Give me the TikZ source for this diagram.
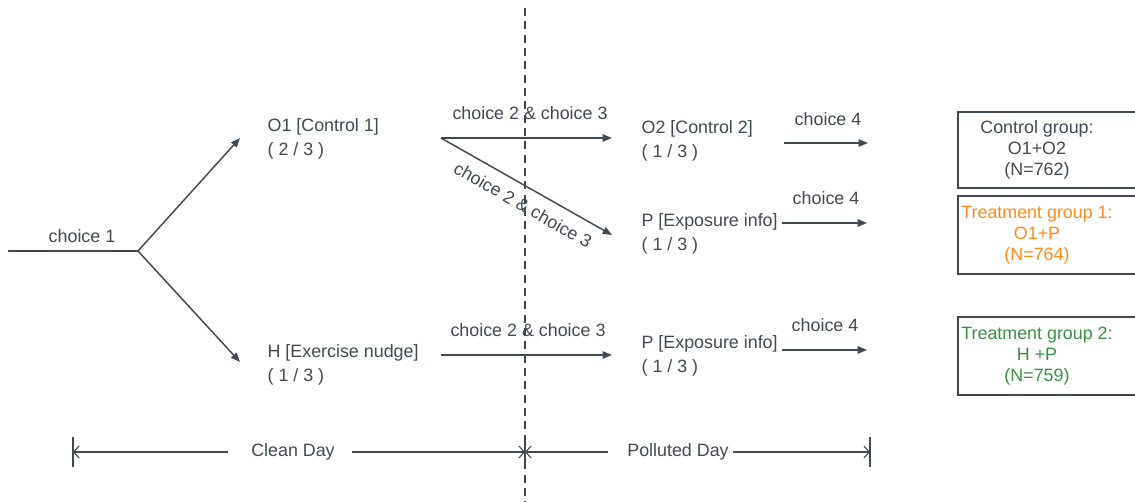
\documentclass[tikz,border=0pt]{standalone}
\usepackage{fontspec}
\setmainfont{Liberation Sans}
\usetikzlibrary{positioning, arrows.meta, calc}
\definecolor{ink}{HTML}{414952}
\definecolor{treatA}{HTML}{FF8A1C}
\definecolor{treatB}{HTML}{3D8D43}

\begin{document}
\begin{tikzpicture}[
    x=0.75pt, y=-0.75pt,
    every node/.style={font=\fontsize{13.4}{17.5}\selectfont, text=ink, inner sep=1pt},
    arm/.style={draw=ink, line width=1.1pt, -{Triangle[length=7pt,width=5.5pt]}},
    plain/.style={draw=ink, line width=1.1pt},
    arm text/.style={align=left, anchor=west},
    span/.style={draw=ink, line width=0.8pt, -{Straight Barb[length=4pt,width=9pt]}},
    tick/.style={draw=ink, line width=1pt},
    groupbox/.style={draw=ink, line width=1.6pt},
    group text/.style={align=center, font=\fontsize{13.4}{15.75}\selectfont}
]
    \useasboundingbox (0,0) rectangle (1135,502);

    % day split
    \draw[ink, line width=0.9pt, dash pattern=on 6pt off 4pt] (525,8) -- (525,502);

    % first randomisation
    \coordinate (start) at (8,251);
    \coordinate (fork) at (138,251);
    \node (c1) at (82,236) {choice 1};
    \node[arm text] (o1) at (266,139) {O1 [Control 1]\\( 2 / 3 )};
    \node[arm text] (h) at (266,365) {H [Exercise nudge]\\( 1 / 3 )};
    \draw[plain] (start) -- (fork);
    \draw[arm] (fork) -- (240,138) coordinate (o1in);
    \draw[arm] (fork) -- (240,362) coordinate (hin);

    % second randomisation
    \coordinate (o1out) at (441,138);
    \coordinate (hout) at (441,355);
    \node[arm text] (o2) at (640,141) {O2 [Control 2]\\( 1 / 3 )};
    \node[arm text] (pa) at (640,234) {P [Exposure info]\\( 1 / 3 )};
    \node[arm text] (pb) at (640,356) {P [Exposure info]\\( 1 / 3 )};
    \coordinate (o2in) at (612,138);
    \coordinate (pain) at (612,235);
    \coordinate (pbin) at (612,355);
    \draw[arm] (o1out) -- (o2in);
    \draw[arm] (o1out) -- (pain);
    \draw[arm] (hout) -- (pbin);
    \node (c2a) at (530,113) {choice 2 \& choice 3};
    \node[rotate=-29.6] (c2b) at (523,205) {choice 2 \& choice 3};
    \node (c2c) at (528,330) {choice 2 \& choice 3};

    % third step
    \coordinate (o2out) at (784,143);
    \coordinate (paout) at (782,223);
    \coordinate (pbout) at (782,350);
    \draw[arm] (o2out) -- (868,143);
    \draw[arm] (paout) -- (867,223);
    \draw[arm] (pbout) -- (867,350);
    \node (c4a) at (828,119) {choice 4};
    \node (c4b) at (826,198) {choice 4};
    \node (c4c) at (825,325) {choice 4};

    % groups
    \draw[groupbox] (1150,112) -| (958,188) -- (1150,188);
    \draw[groupbox] (1150,196) -| (958,274) -- (1150,274);
    \draw[groupbox] (1150,317) -| (958,395) -- (1150,395);
    \node[group text] (g0) at (1037,150) {Control group:\\O1+O2\\(N=762)};
    \node[group text, text=treatA] (g1) at (1037,235) {Treatment group 1:\\O1+P\\(N=764)};
    \node[group text, text=treatB] (g2) at (1037,356) {Treatment group 2:\\H +P\\(N=759)};

    % days
    \draw[tick] (73,437) -- (73,467);
    \draw[tick] (525,437) -- (525,467);
    \draw[tick] (870,437) -- (870,467);
    \node (clean) at (293,452) {Clean Day};
    \node (polluted) at (678,452) {Polluted Day};
    \draw[span] (228,452) -- (73,452);
    \draw[span] (352,452) -- (525,452);
    \draw[span] (608,452) -- (525,452);
    \draw[span] (733,452) -- (870,452);
\end{tikzpicture}
\end{document}
